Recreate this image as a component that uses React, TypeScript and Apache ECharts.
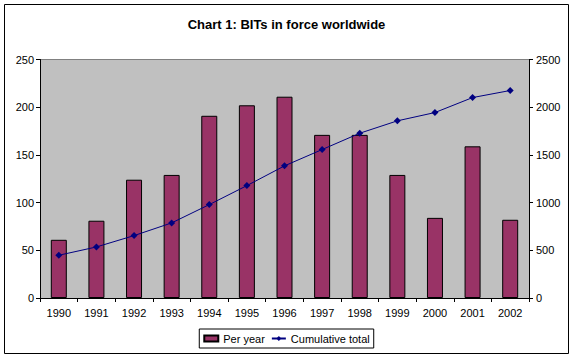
import React, { useEffect, useRef } from "react";
import * as echarts from "echarts";

const years = ["1990", "1991", "1992", "1993", "1994", "1995", "1996", "1997", "1998", "1999", "2000", "2001", "2002"];
const perYear = [61, 81, 124, 129, 191, 202, 211, 171, 171, 129, 84, 159, 82];
const cumulative = [448, 535, 654, 787, 979, 1178, 1385, 1556, 1727, 1857, 1944, 2101, 2175];

const FONT = "Liberation Sans, Arial, sans-serif";

export default function App() {
  const ref = useRef<HTMLDivElement>(null);
  useEffect(() => {
    const chart = echarts.init(ref.current!, null, { renderer: "svg" });
    chart.setOption({
      animation: false,
      backgroundColor: "#ffffff",
      textStyle: { fontFamily: FONT, color: "#000" },
      title: {
        text: "Chart 1: BITs in force worldwide",
        left: "center",
        top: 13,
        textStyle: { fontFamily: FONT, fontSize: 13, fontWeight: "bold", color: "#000" },
      },
      graphic: [
        {
          type: "rect",
          shape: { x: 4.5, y: 4.5, width: 564, height: 349 },
          style: { fill: "none", stroke: "#000", lineWidth: 1 },
          silent: true,
        },
        {
          type: "line",
          shape: { x1: 40, y1: 59.5, x2: 529, y2: 59.5 },
          style: { stroke: "#808080", lineWidth: 1 },
          silent: true,
        },
      ],
      legend: {
        bottom: 10,
        left: "center",
        itemWidth: 14,
        itemHeight: 6,
        itemGap: 6,
        padding: [4, 4, 4, 4],
        borderColor: "#000",
        borderWidth: 1,
        textStyle: { fontFamily: FONT, fontSize: 11, color: "#000" },
        data: [
          { name: "Per year", icon: "rect" },
          { name: "Cumulative total" },
        ],
      },
      grid: {
        left: 40,
        right: 44,
        top: 59.5,
        bottom: 60,
        show: true,
        backgroundColor: "#c0c0c0",
        borderWidth: 0,
      },
      xAxis: {
        type: "category",
        data: years,
        boundaryGap: true,
        axisLine: { lineStyle: { color: "#000", width: 1 } },
        axisTick: { show: true, inside: false, length: 4, alignWithLabel: false, lineStyle: { color: "#000" } },
        axisLabel: { fontFamily: FONT, fontSize: 11, color: "#000", margin: 9 },
      },
      yAxis: [
        {
          type: "value",
          min: 0,
          max: 250,
          interval: 50,
          position: "left",
          axisLine: { show: true, lineStyle: { color: "#000" } },
          axisTick: { show: true, length: 4, lineStyle: { color: "#000" } },
          axisLabel: { fontFamily: FONT, fontSize: 11, color: "#000", margin: 6, formatter: (v: number) => String(v) },
          splitLine: { show: false },
        },
        {
          type: "value",
          min: 0,
          max: 2500,
          interval: 500,
          position: "right",
          axisLine: { show: true, lineStyle: { color: "#000" } },
          axisTick: { show: true, length: 4, lineStyle: { color: "#000" } },
          axisLabel: { fontFamily: FONT, fontSize: 11, color: "#000", margin: 7, formatter: (v: number) => String(v) },
          splitLine: { show: false },
        },
      ],
      series: [
        {
          name: "Per year",
          type: "bar",
          data: perYear,
          yAxisIndex: 0,
          barWidth: 16,
          itemStyle: { color: "#993366", borderColor: "#000", borderWidth: 1 },
        },
        {
          name: "Cumulative total",
          type: "line",
          data: cumulative,
          yAxisIndex: 1,
          symbol: "diamond",
          symbolSize: 7,
          lineStyle: { color: "#000080", width: 1 },
          itemStyle: { color: "#000080" },
        },
      ],
    });
    return () => chart.dispose();
  }, []);
  return (
    <div
      ref={ref}
      style={{ position: "fixed", left: 0, top: 0, width: 573, height: 358 }}
    />
  );
}
